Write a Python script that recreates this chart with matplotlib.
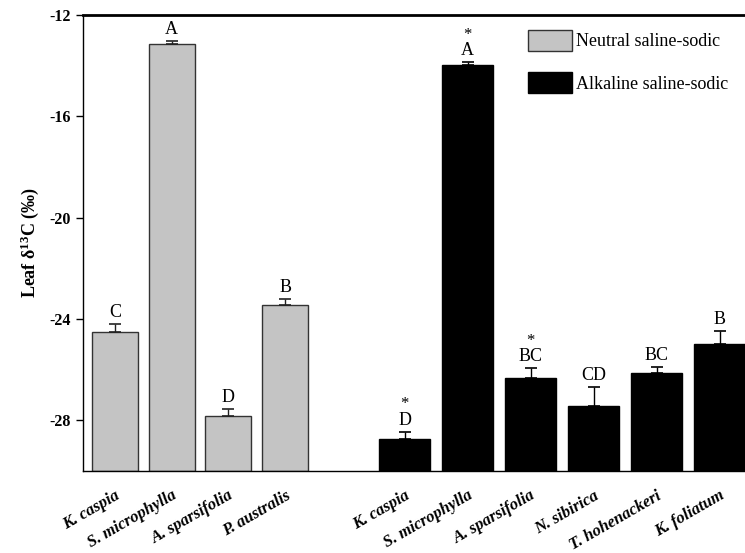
import matplotlib
matplotlib.use("Agg")
import matplotlib.pyplot as plt
from matplotlib.patches import Patch
import numpy as np

plt.rcParams['font.family'] = ['Liberation Serif', 'DejaVu Serif']
plt.rcParams['mathtext.fontset'] = 'custom'
plt.rcParams['mathtext.rm'] = 'Liberation Serif'
plt.rcParams['mathtext.it'] = 'Liberation Serif:italic:bold'
plt.rcParams['mathtext.bf'] = 'Liberation Serif:bold'

neutral_species = ["K. caspia", "S. microphylla", "A. sparsifolia", "P. australis"]
neutral_values = [-24.50, -13.16, -27.83, -23.44]
neutral_err = [0.31, 0.12, 0.26, 0.24]
neutral_letters = ["C", "A", "D", "B"]

alkaline_species = ["K. caspia", "S. microphylla", "A. sparsifolia", "N. sibirica",
                    "T. hohenackeri", "K. foliatum"]
alkaline_values = [-28.75, -13.97, -26.34, -27.43, -26.15, -25.00]
alkaline_err = [0.30, 0.10, 0.39, 0.73, 0.25, 0.51]
alkaline_letters = ["D", "A", "BC", "CD", "BC", "B"]
alkaline_star = [True, True, True, False, False, False]

legend_labels = ["Neutral saline-sodic", "Alkaline saline-sodic"]
yticks = [-12, -16, -20, -24, -28]
ymin, ymax = -30, -12

fig = plt.figure(figsize=(7.45, 5.53), dpi=100)
ax = fig.add_axes([0.1114, 0.1483, 0.8886, 0.8246])

# positions (layout)
x_n = np.arange(len(neutral_species)) * 1.0
x_a = 5.106 + np.arange(len(alkaline_species)) * 1.111
w_n, w_a = 0.81, 0.90

nv = np.array(neutral_values)
av = np.array(alkaline_values)
ax.bar(x_n, nv - ymin, bottom=ymin, width=w_n, color="#c4c4c4",
       edgecolor="#333333", linewidth=1.0, zorder=2)
ax.bar(x_a, av - ymin, bottom=ymin, width=w_a, color="black",
       edgecolor="black", linewidth=1.0, zorder=2)

ax.errorbar(x_n, nv, yerr=[np.zeros(len(nv)), neutral_err], fmt="none",
            ecolor="#222222", elinewidth=1.0, capsize=4, capthick=1.2, zorder=3)
ax.errorbar(x_a, av, yerr=[np.zeros(len(av)), alkaline_err], fmt="none",
            ecolor="black", elinewidth=1.0, capsize=4, capthick=1.2, zorder=3)

off = 0.12
for x, v, e, l in zip(x_n, nv, neutral_err, neutral_letters):
    ax.text(x, v + e + off, l, ha="center", va="bottom", fontsize=13)
for x, v, e, l, s in zip(x_a, av, alkaline_err, alkaline_letters, alkaline_star):
    ax.text(x, v + e + off, l, ha="center", va="bottom", fontsize=13)
    if s:
        ax.text(x, v + e + off + 0.66, "*", ha="center", va="bottom", fontsize=12)

ax.set_ylim(ymin, ymax)
ax.set_xlim(-0.564, 11.11)
ax.set_yticks(yticks)
ax.set_yticklabels([str(t) for t in yticks], fontweight="bold", fontsize=11.5)
ax.tick_params(axis="y", direction="out", length=5, width=1)

ax.set_xticks(list(x_n) + list(x_a))
ax.set_xticklabels(neutral_species + alkaline_species, rotation=30,
                   ha="right", rotation_mode="anchor", fontstyle="italic",
                   fontweight="bold", fontsize=12)
ax.tick_params(axis="x", length=0, pad=12)

ax.spines["right"].set_visible(False)
ax.spines["top"].set_linewidth(2.0)
ax.spines["left"].set_linewidth(1.0)
ax.spines["bottom"].set_linewidth(1.0)

ax.set_ylabel(r"Leaf $\mathbf{\delta}^{\mathbf{13}}$C (‰)", fontweight="bold", fontsize=13, labelpad=6)

handles = [Patch(facecolor="#c4c4c4", edgecolor="#333333"),
           Patch(facecolor="black", edgecolor="black")]
ax.legend(handles, legend_labels, loc="upper left", bbox_to_anchor=(0.648, 1.003),
          frameon=False, fontsize=13, handlelength=2.4, handleheight=1.4,
          labelspacing=1.2, handletextpad=0.25)

fig.savefig("out.png", dpi=100)
